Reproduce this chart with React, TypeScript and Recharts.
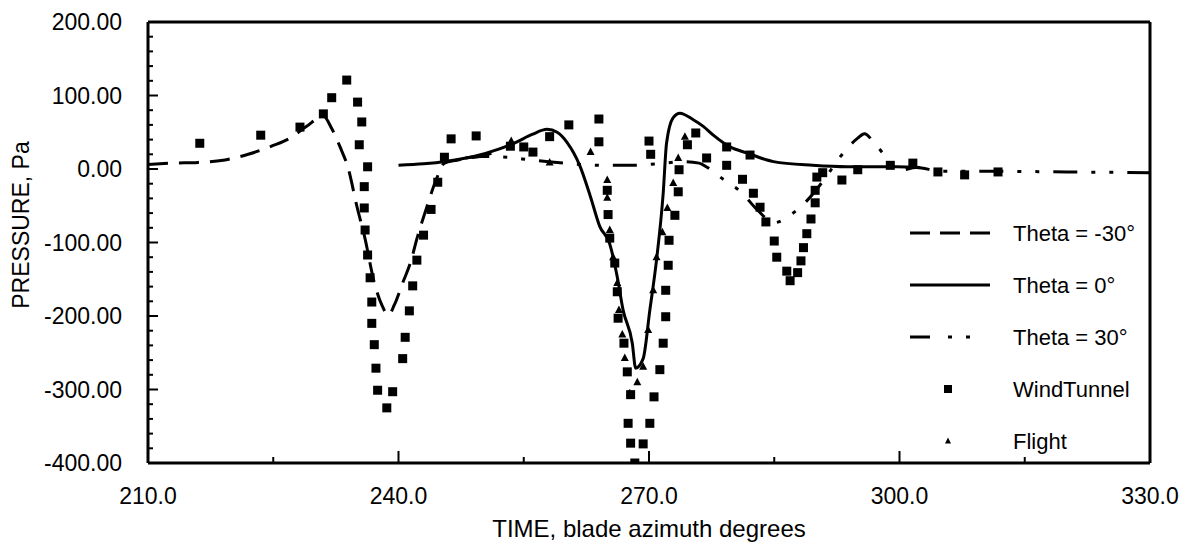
import React from 'react';
import { ComposedChart, Line, Scatter, XAxis, YAxis, ReferenceLine, Legend } from 'recharts';

const FONT = '"Liberation Sans", Arial, Helvetica, sans-serif';

// Theta = -30 deg (dashed)
const thetaNeg30Time = [210, 213, 216, 219, 222, 225, 227, 229, 231, 232, 233, 234, 235, 236, 237, 238, 238.8, 239.5, 240.5, 241.5, 242.2, 243.3, 244.5, 245.5, 247, 250, 252];
const thetaNeg30Pressure = [6, 8, 9, 12, 20, 32, 42, 58, 72, 55, 30, 0, -50, -95, -150, -185, -199, -185, -155, -125, -95, -55, -15, 8, 12, 18, 24];

// Theta = 0 deg (solid)
const theta0Time = [240, 243, 246, 249, 252, 254, 256, 257.8, 259, 260.2, 261.7, 263, 264.1, 265.3, 266.2, 266.9, 268, 268.4, 269.3, 270.1, 270.9, 271.7, 272.1, 272.9, 273.7, 275.3, 276.5, 277.7, 279.7, 281.7, 284.9, 289.6, 293.7, 299.7, 302.5];
const theta0Pressure = [5, 7, 11, 17, 27, 36, 47, 54, 50, 36, 5, -38, -78, -102, -147, -192, -237, -271, -258, -192, -124, -33, 35, 70, 76, 67, 58, 46, 30, 22, 10, 5, 3, 3, 2];

// Theta = 30 deg (dash-dot)
const theta30Time = [248, 250, 253, 256, 259, 262, 265, 268, 271, 274, 276, 277, 279, 281, 283, 285, 287, 289, 291, 293, 295, 295.8, 297, 298.5, 300, 302, 305, 310, 320, 330];
const theta30Pressure = [15, 17, 16, 12, 9, 6, 5, 5, 7, 10, 8, 2, -15, -31, -56, -73, -62, -42, -14, 18, 42, 48, 35, 15, -2, 2, -3, -3, -4, -5];

// Wind tunnel measurements
const windTunnelTime = [216.2, 223.5, 228.2, 231, 232, 233.8, 235.1, 235.6, 235.3, 236.3, 235.9, 235.9, 236, 236.3, 236.6, 236.8, 236.8, 237.1, 237.3, 237.5, 238.6, 239.3, 240.5, 240.8, 241.3, 241.7, 242.2, 243, 243.9, 244.7, 245.5, 246.3, 249.3, 253.4, 255, 256.1, 258.1, 260.4, 264, 264, 265, 265.1, 265.3, 265.9, 266.2, 266.3, 267, 267.4, 267.8, 267.5, 267.8, 268.3, 269.3, 270.1, 270.6, 271.3, 271.7, 272, 272, 272.3, 272.4, 273.1, 273.5, 273.6, 274.6, 275.6, 270, 270.2, 276.9, 279.3, 279.3, 282.1, 281.2, 282.5, 283.3, 284, 285, 285.3, 286.5, 286.9, 287.8, 288.2, 288.5, 288.9, 289.4, 289.9, 289.9, 290.1, 290.8, 293.1, 295, 298.9, 301.6, 304.6, 307.8, 311.8];
const windTunnelPressure = [35, 46, 57, 75, 97, 121, 91, 64, 33, 3, -24, -53, -83, -117, -148, -181, -210, -239, -271, -301, -325, -303, -258, -229, -193, -159, -124, -90, -55, -18, 16, 41, 45, 31, 30, 23, 44, 60, 68, 37, -29, -62, -94, -128, -167, -203, -237, -276, -307, -346, -373, -400, -374, -346, -310, -273, -237, -201, -165, -131, -97, -63, -31, -1, 33, 49, 38, 20, 15, 5, 30, 19, -14, -33, -52, -72, -98, -120, -139, -152, -141, -125, -107, -88, -68, -46, -29, -11, -5, -15, -1, 5, 8, -4, -8, -4];

// Flight measurements
const flightTime = [253.5, 258.1, 263, 265, 265, 265.3, 265.7, 266.2, 266.4, 266.8, 267.1, 267.7, 268.6, 269.3, 269.9, 270.5, 270.9, 271.6, 272.2, 272.9, 273.5, 274.3];
const flightPressure = [38, 9, 23, -15, -39, -83, -120, -155, -192, -225, -257, -305, -290, -269, -219, -165, -120, -86, -53, -19, 15, 44];

const xTicks = [210, 225, 240, 255, 270, 285, 300, 315, 330];
const yTicks = [-400, -380, -360, -340, -320, -300, -280, -260, -240, -220, -200, -180, -160, -140, -120, -100, -80, -60, -40, -20, 0, 20, 40, 60, 80, 100, 120, 140, 160, 180, 200];

const legendNames = ['Theta = -30°', 'Theta = 0°', 'Theta = 30°', 'WindTunnel', 'Flight'];

const zip = (t: number[], p: number[]) => t.map((v, i) => ({ t: v, p: p[i] }));

const thetaNeg30Data = zip(thetaNeg30Time, thetaNeg30Pressure);
const theta0Data = zip(theta0Time, theta0Pressure);
const theta30Data = zip(theta30Time, theta30Pressure);
const windTunnelData = zip(windTunnelTime, windTunnelPressure);
const flightData = zip(flightTime, flightPressure);

const DASHED = '20 11';
const DASH_DOT = '24 14 4 14 4 14';
const LINE_W = 3;

function YTick(props: any) {
  const { x, y, payload } = props;
  const v = payload.value as number;
  const major = v % 100 === 0;
  return (
    <g>
      <line x1={x} x2={x + (major ? 10 : 5)} y1={y} y2={y} stroke="#000" strokeWidth={2} />
      {major && (
        <text x={x - 26} y={y + 8} textAnchor="end" fontSize={23} fontFamily={FONT} fill="#000">
          {v.toFixed(2)}
        </text>
      )}
    </g>
  );
}

function XTick(props: any) {
  const { x, y, payload } = props;
  const v = payload.value as number;
  const major = v % 30 === 0;
  return (
    <g>
      <line x1={x} x2={x} y1={y} y2={y - (major ? 12 : 6)} stroke="#000" strokeWidth={2} />
      {major && (
        <text x={x} y={y + 41} textAnchor="middle" fontSize={23} fontFamily={FONT} fill="#000">
          {v.toFixed(1)}
        </text>
      )}
    </g>
  );
}

const Square = (props: any) => {
  const { cx, cy } = props;
  return <rect x={cx - 4.5} y={cy - 4.5} width={9} height={9} fill="#000" />;
};

const Triangle = (props: any) => {
  const { cx, cy } = props;
  return <polygon points={`${cx},${cy - 4.5} ${cx - 4},${cy + 3} ${cx + 4},${cy + 3}`} fill="#000" />;
};

const XTitle = (props: any) => {
  const vb = props.viewBox || { x: 140, y: 455, width: 1002, height: 83 };
  return (
    <text x={vb.x + vb.width / 2} y={vb.y + 74} textAnchor="middle" fontSize={24} fontFamily={FONT} fill="#000">
      TIME, blade azimuth degrees
    </text>
  );
};

const YTitle = () => {
  const cx = 13;
  const cy = 217;
  return (
    <text x={cx} y={cy + 8} transform={`rotate(-90 ${cx} ${cy})`} textAnchor="middle" fontSize={23} fontFamily={FONT} fill="#000">
      PRESSURE, Pa
    </text>
  );
};

function LegendBox() {
  return (
    <svg width={270} height={240} style={{ display: 'block' }}>
      {legendNames.map((name, i) => {
        const y = 13 + i * 52;
        let symbol: React.ReactNode = null;
        if (i === 0) symbol = <line x1={5} x2={85} y1={y} y2={y} stroke="#000" strokeWidth={LINE_W} strokeDasharray="20 10" />;
        if (i === 1) symbol = <line x1={5} x2={85} y1={y} y2={y} stroke="#000" strokeWidth={LINE_W} />;
        if (i === 2) symbol = <line x1={5} x2={69} y1={y} y2={y} stroke="#000" strokeWidth={LINE_W} strokeDasharray="20 18 4 14 4 14" />;
        if (i === 3) symbol = <rect x={39} y={y - 4} width={8} height={8} fill="#000" />;
        if (i === 4) symbol = <polygon points={`43,${y - 3.5} 40,${y + 2.5} 46,${y + 2.5}`} fill="#000" />;
        return (
          <g key={name}>
            {symbol}
            <text x={108} y={y + 8} fontSize={22} fontFamily={FONT} fill="#000">
              {name}
            </text>
          </g>
        );
      })}
    </svg>
  );
}

export default function App() {
  return (
    <ComposedChart width={1173} height={538} margin={{ top: 14, right: 31, bottom: 0, left: 0 }}>
      <XAxis
        type="number"
        dataKey="t"
        domain={[210, 330]}
        ticks={xTicks}
        interval={0}
        tickSize={0}
        tickMargin={0}
        height={83}
        tick={<XTick />}
        axisLine={{ stroke: '#000', strokeWidth: LINE_W }}
        tickLine={false}
        allowDataOverflow
        label={XTitle}
      />
      <YAxis
        type="number"
        dataKey="p"
        domain={[-400, 200]}
        ticks={yTicks}
        interval={0}
        tickSize={0}
        tickMargin={0}
        width={140}
        tick={<YTick />}
        axisLine={{ stroke: '#000', strokeWidth: LINE_W }}
        tickLine={false}
        allowDataOverflow
        label={YTitle}
      />
      <ReferenceLine y={200} stroke="#000" strokeWidth={LINE_W} />
      <ReferenceLine x={330} stroke="#000" strokeWidth={LINE_W} />
      <Line data={thetaNeg30Data} dataKey="p" type="monotone" stroke="#000" strokeWidth={LINE_W} strokeDasharray={DASHED} dot={false} activeDot={false} isAnimationActive={false} />
      <Line data={theta0Data} dataKey="p" type="monotone" stroke="#000" strokeWidth={LINE_W} dot={false} activeDot={false} isAnimationActive={false} />
      <Line data={theta30Data} dataKey="p" type="monotone" stroke="#000" strokeWidth={LINE_W} strokeDasharray={DASH_DOT} dot={false} activeDot={false} isAnimationActive={false} />
      <Scatter data={windTunnelData} dataKey="p" shape={<Square />} isAnimationActive={false} />
      <Scatter data={flightData} dataKey="p" shape={<Triangle />} isAnimationActive={false} />
      <Legend
        layout="vertical"
        align="center"
        verticalAlign="middle"
        content={() => <LegendBox />}
        wrapperStyle={{ left: 897, top: 212, width: 270 }}
      />
    </ComposedChart>
  );
}
